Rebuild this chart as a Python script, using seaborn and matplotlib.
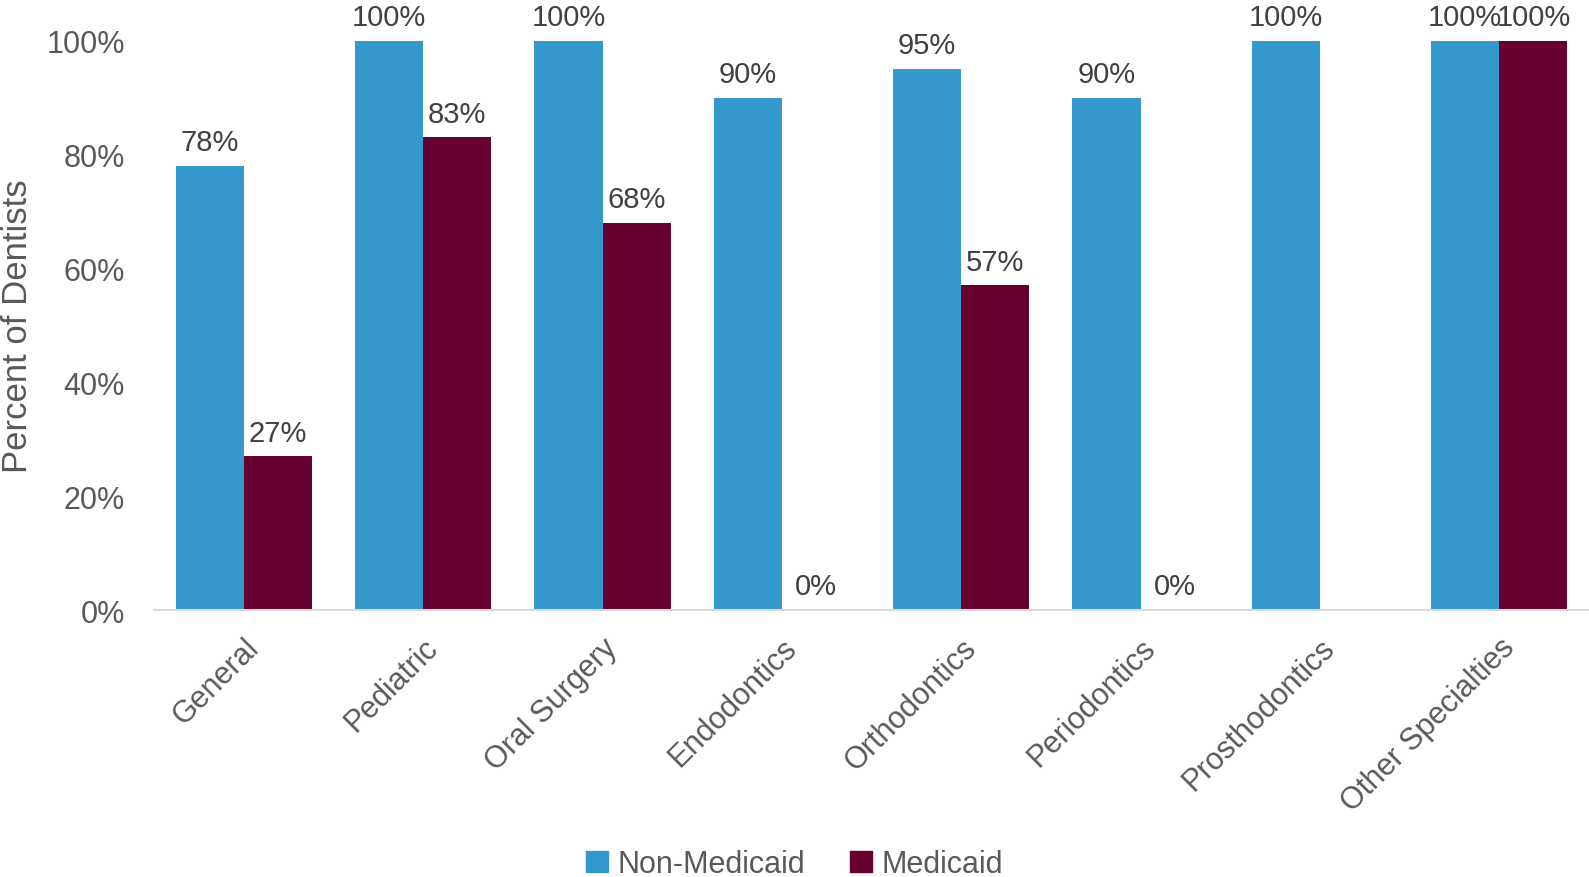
import numpy as np
import pandas as pd
import matplotlib
matplotlib.use("Agg")
import matplotlib.pyplot as plt
import seaborn as sns

sns.set_style("white")
plt.rcParams['font.family'] = ['Liberation Sans', 'DejaVu Sans']

categories = ['General', 'Pediatric', 'Oral Surgery', 'Endodontics', 'Orthodontics',
              'Periodontics', 'Prosthodontics', 'Other Specialties']
non_medicaid = [78, 100, 100, 90, 95, 90, 100, 100]
medicaid = [27, 83, 68, 0, 57, 0, np.nan, 100]
groups = ['Non-Medicaid', 'Medicaid']
colors = ['#3498cc', '#650030']

df = pd.DataFrame({
    'category': categories * 2,
    'group': [groups[0]] * len(categories) + [groups[1]] * len(categories),
    'value': [v / 100 for v in non_medicaid] + [v / 100 for v in medicaid],
})

fig = plt.figure(figsize=(15.89, 8.78), dpi=100)
ax = fig.add_axes([0.097, 0.304, 0.903, 0.6486])

sns.barplot(data=df, x='category', y='value', hue='group', order=categories,
            hue_order=groups, palette=colors, width=0.76, saturation=1,
            linewidth=0, ax=ax, legend=False)

# value labels above each drawn bar
for cont in ax.containers:
    for bar in cont:
        if bar is None:
            continue
        h = bar.get_height()
        if np.isnan(h):
            continue
        ax.annotate('{:.0f}%'.format(h * 100), (bar.get_x() + bar.get_width() / 2, h),
                    xytext=(0, 7), textcoords='offset points', ha='center', va='bottom',
                    fontsize=21, color='#404040', annotation_clip=False)

ax.set_ylim(0, 1)
ax.set_xlim(-0.5, len(categories) - 0.5)
ticks = np.arange(0, 1.01, 0.2)
ax.set_yticks(ticks)
ax.set_yticklabels(['{:.0f}%'.format(t * 100) for t in ticks])
ax.tick_params(axis='y', labelsize=22, labelcolor='#595959', length=0, pad=21)
ax.tick_params(axis='x', labelsize=22, labelcolor='#595959', length=0, pad=16)
plt.setp(ax.get_xticklabels(), rotation=45, ha='right', rotation_mode='anchor')
ax.set_xlabel('')
ax.set_ylabel('Percent of Dentists', fontsize=25, color='#595959')
ax.yaxis.set_label_coords(-0.084, 0.5)

for s in ['top', 'right', 'left']:
    ax.spines[s].set_visible(False)
ax.spines['bottom'].set_color('#d9d9d9')
ax.spines['bottom'].set_linewidth(1.5)

handles = [plt.Rectangle((0, 0), 1, 1, color=c) for c in colors]
fig.legend(handles, groups, loc='lower center', bbox_to_anchor=(0.5, -0.034), ncol=2,
           frameon=False, fontsize=22, labelcolor='#595959', handlelength=0.7,
           handleheight=0.7, handletextpad=0.3, columnspacing=1.5)

fig.savefig('out.png', dpi=100)
